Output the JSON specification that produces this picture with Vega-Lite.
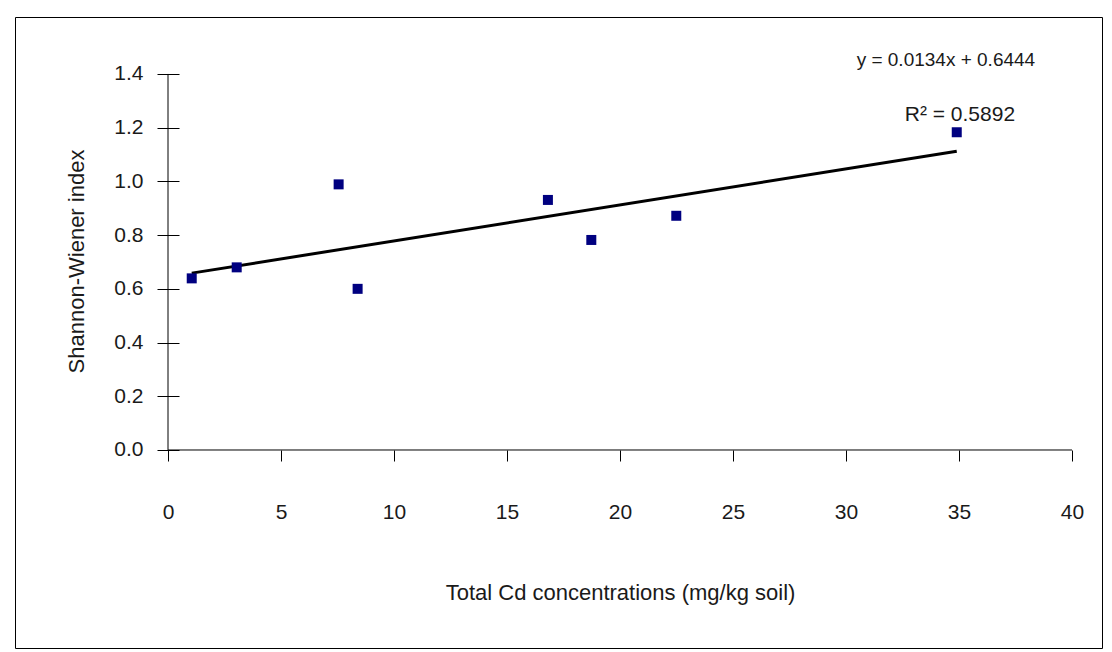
{
  "$schema": "https://vega.github.io/schema/vega-lite/v6.json",
  "autosize": {"type": "none"},
  "width": 1087,
  "height": 631,
  "padding": {"left": 15, "top": 17, "right": 10, "bottom": 4},
  "background": "white",
  "config": {
    "view": {"stroke": "black", "strokeWidth": 1},
    "font": "Liberation Sans"
  },
  "datasets": {
    "points": [
      {"cd": 1.05, "hw": 0.639},
      {"cd": 3.04, "hw": 0.680},
      {"cd": 7.55, "hw": 0.989},
      {"cd": 8.39, "hw": 0.600},
      {"cd": 16.81, "hw": 0.931},
      {"cd": 18.73, "hw": 0.782},
      {"cd": 22.49, "hw": 0.872},
      {"cd": 34.90, "hw": 1.183}
    ],
    "trend": [
      {"cd": 1.05, "hw": 0.6585},
      {"cd": 34.9, "hw": 1.112}
    ],
    "axislines": [
      {"cd": 0, "hw": 0, "cd2": 40, "hw2": 0},
      {"cd": 0, "hw": 0, "cd2": 0, "hw2": 1.4}
    ],
    "labels": [
      {"cd": 34.42, "hw": 1.4538, "txt": "y = 0.0134x + 0.6444", "sz": 19},
      {"cd": 35.04, "hw": 1.2454, "txt": "R² = 0.5892", "sz": 21}
    ]
  },
  "layer": [
    {
      "data": {"name": "axislines"},
      "mark": {"type": "rule", "color": "black", "strokeWidth": 1},
      "encoding": {
        "x": {"field": "cd", "type": "quantitative", "scale": {"domain": [-6.77, 41.327], "nice": false, "zero": false},
          "axis": {
            "orient": "bottom", "offset": -198, "domain": false, "grid": false,
            "values": [0, 5, 10, 15, 20, 25, 30, 35, 40], "format": "d",
            "tickSize": 11, "tickColor": "black", "tickWidth": 1,
            "labelFontSize": 21, "labelColor": "#1a1a1a", "labelPadding": 51, "labelBaseline": "middle", "labelFont": "Liberation Sans",
            "title": "Total Cd concentrations (mg/kg soil)", "titleFontSize": 22, "titleFontWeight": "normal", "titleColor": "#1a1a1a", "titleFont": "Liberation Sans",
            "titleX": 605, "titleY": 142, "titleBaseline": "middle", "titleAnchor": "middle", "titleAlign": "center"
          }},
        "y": {"field": "hw", "type": "quantitative", "scale": {"domain": [-0.7372, 1.6121], "nice": false, "zero": false},
          "axis": {
            "orient": "left", "offset": -164, "domain": false, "grid": false,
            "values": [0, 0.2, 0.4, 0.6, 0.8, 1.0, 1.2, 1.4], "format": ".1f",
            "tickSize": 22, "tickColor": "black", "tickWidth": 1,
            "labelFontSize": 21, "labelColor": "#1a1a1a", "labelPadding": 14, "labelFont": "Liberation Sans",
            "title": "Shannon-Wiener index", "titleFontSize": 22, "titleFontWeight": "normal", "titleColor": "#1a1a1a", "titleFont": "Liberation Sans",
            "titleX": -103, "titleY": 244, "titleAngle": -90, "titleBaseline": "middle", "titleAlign": "center", "titleAnchor": "middle"
          }},
        "x2": {"field": "cd2"},
        "y2": {"field": "hw2"}
      }
    },
    {
      "data": {"name": "trend"},
      "mark": {"type": "line", "color": "black", "strokeWidth": 3},
      "encoding": {
        "x": {"field": "cd", "type": "quantitative", "scale": {"domain": [-6.77, 41.327], "nice": false, "zero": false}},
        "y": {"field": "hw", "type": "quantitative", "scale": {"domain": [-0.7372, 1.6121], "nice": false, "zero": false}}
      }
    },
    {
      "data": {"name": "points"},
      "mark": {"type": "point", "shape": "square", "filled": true, "color": "#000080", "opacity": 1, "size": 100},
      "encoding": {
        "x": {"field": "cd", "type": "quantitative", "scale": {"domain": [-6.77, 41.327], "nice": false, "zero": false}},
        "y": {"field": "hw", "type": "quantitative", "scale": {"domain": [-0.7372, 1.6121], "nice": false, "zero": false}}
      }
    },
    {
      "data": {"name": "labels"},
      "mark": {"type": "text", "align": "center", "baseline": "middle", "color": "#1a1a1a", "font": "Liberation Sans"},
      "encoding": {
        "x": {"field": "cd", "type": "quantitative", "scale": {"domain": [-6.77, 41.327], "nice": false, "zero": false}},
        "y": {"field": "hw", "type": "quantitative", "scale": {"domain": [-0.7372, 1.6121], "nice": false, "zero": false}},
        "text": {"field": "txt"},
        "size": {"field": "sz", "type": "quantitative", "scale": null}
      }
    }
  ]
}
